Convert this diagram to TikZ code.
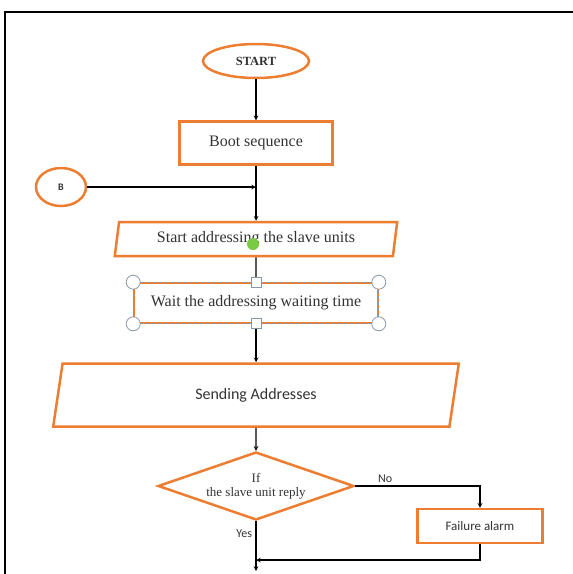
\documentclass[tikz,border=0pt]{standalone}
\usepackage{fontspec}
\setmainfont{Liberation Serif}
\newfontfamily\calib{Carlito}
\usetikzlibrary{shapes.geometric,arrows}

\definecolor{wordorange}{HTML}{ED7D31}
\definecolor{handlegray}{HTML}{8A96A8}
\definecolor{anchorgreen}{HTML}{7AC943}

\begin{document}
\begin{tikzpicture}[x=1pt,y=-1pt,->,>=stealth,line width=1.1pt,node distance=80pt,
                    every text node part/.style={align=center}]
  \tikzstyle{every node}=[text=black!80]
  \tikzstyle{terminal}=[ellipse,draw=wordorange,line width=2.5pt,fill=white,
                        minimum width=106pt,minimum height=34pt,inner sep=0pt]
  \tikzstyle{process}=[rectangle,draw=wordorange,line width=2.5pt,fill=white,
                       minimum width=153pt,minimum height=43pt,inner sep=0pt,
                       font=\fontsize{16}{18}\selectfont]
  \tikzstyle{io}=[trapezium,trapezium left angle=78,trapezium right angle=102,
                  trapezium stretches=true,draw=wordorange,line width=2.5pt,
                  fill=white,inner sep=0pt,font=\fontsize{16}{18}\selectfont]
  \tikzstyle{decision}=[diamond,shape aspect=2.88,draw=wordorange,line width=2.5pt,
                        fill=white,minimum width=196pt,minimum height=68pt,inner sep=0pt,
                        font=\fontsize{13}{14}\selectfont]
  \tikzstyle{branch}=[font=\calib\fontsize{12}{13}\selectfont]

  \useasboundingbox (0,0) rectangle (573,574);
  \draw[-,line width=2pt] (5,574) -- (5,12) -- (573,12);

  \node[terminal] (start) at (256,61) {\fontsize{12.5}{14}\selectfont\bfseries START};
  \node[process]  (boot)  [below of=start,node distance=82pt] {Boot sequence};
  \node[io,minimum width=283pt,minimum height=34pt]
                  (addr)  [below of=boot,node distance=96pt] {Start addressing the slave units};
  \node[process,minimum width=244pt,minimum height=40pt,line width=1.6pt]
                  (wait)  [below of=addr,node distance=64pt] {Wait the addressing waiting time};
  \node[io,minimum width=406pt,minimum height=63pt,font=\calib\fontsize{16}{18}\selectfont]
                  (send)  [below of=wait,node distance=92pt] {Sending Addresses};
  \node[decision] (cond)  [below of=send,node distance=91pt] {If\\the slave unit reply};
  \node[process,minimum width=125pt,minimum height=34pt,font=\calib\fontsize{13}{14}\selectfont]
                  (fail)  at (480,526) {Failure alarm};
  \node[terminal,minimum width=50pt,minimum height=38pt]
                  (bconn) at (61,187) {\calib\fontsize{10}{11}\selectfont\bfseries B};

  \coordinate (merge) at (256,560);
  \coordinate (next)  at (256,571);

  \path (start) edge (boot)
        (boot)  edge (addr)
        (addr)  edge (wait)
        (wait)  edge (send)
        (send)  edge (cond);

  \draw (bconn.east) -- (bconn.east -| boot.south);
  \draw (cond.east) -| node[branch,above,pos=0.12] {No} (fail.north);
  \draw (cond.south) -- node[branch,left,pos=0.24] {Yes} (next);
  \draw (fail.south) |- (merge);

  % selection handles of the picked shape
  \draw[-,handlegray,dashed,line width=0.8pt] (wait.north west) rectangle (wait.south east);
  \foreach \corner in {north west,north east,south west,south east}
    \draw[-,handlegray,fill=white,line width=0.8pt] (wait.\corner) circle (7);
  \foreach \side in {north,south}
    \draw[-,handlegray,fill=white,line width=0.8pt]
      ([shift={(-5,-5)}]wait.\side) rectangle ([shift={(5,5)}]wait.\side);
  \fill[anchorgreen] (253,244) circle (6);
\end{tikzpicture}
\end{document}
